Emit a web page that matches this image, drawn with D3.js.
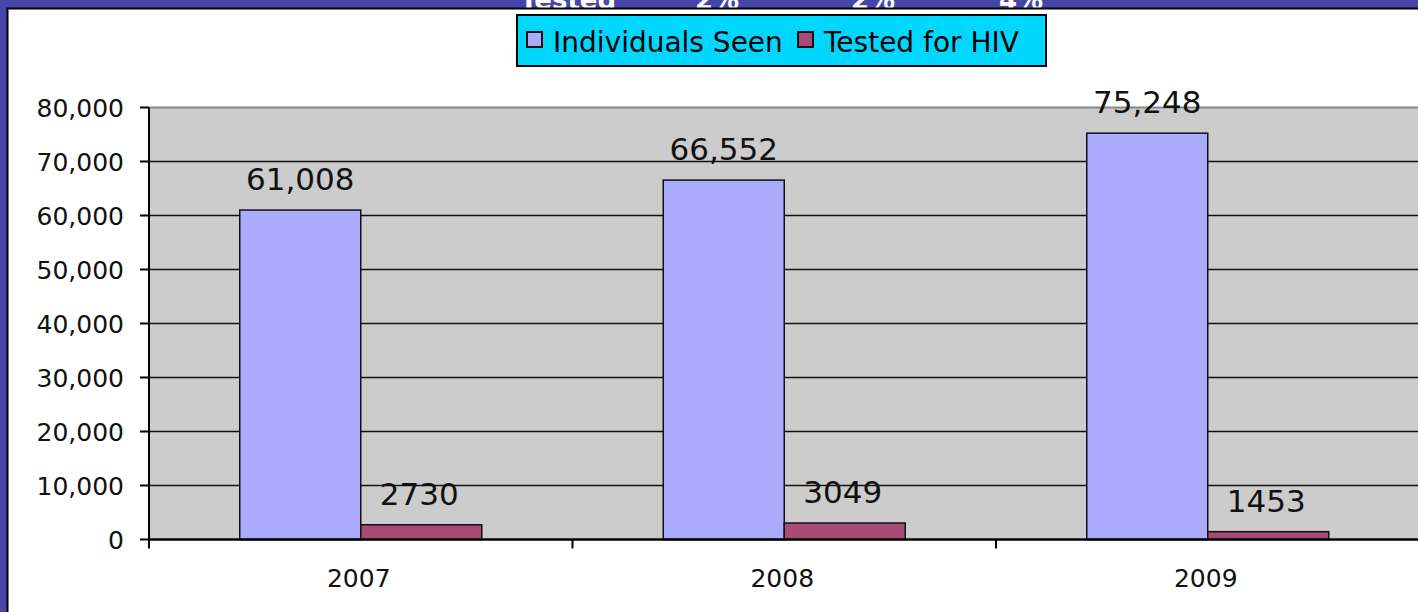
<!DOCTYPE html>
<html lang="en">
<head>
<meta charset="utf-8">
<title>Individuals Seen vs Tested for HIV</title>
<script src="https://d3js.org/d3.v7.min.js"></script>
<style>
  body { margin: 0; background: #fff; }
  svg { display: block; font-family: "DejaVu Sans", Verdana, sans-serif; }
</style>
</head>
<body>
<div id="vis"></div>
<script>
/////////////////// Data //////////////
var years = ["2007", "2008", "2009"];
var individualsSeen = [61008, 66552, 75248];
var testedForHIV = [2730, 3049, 1453];
var seriesNames = ["Individuals Seen", "Tested for HIV"];
var seriesColors = ["#AAAAFF", "#A94A74"];
var yTicks = [0, 10000, 20000, 30000, 40000, 50000, 60000, 70000, 80000];
// header row of the slide table, cut off by the frame
var headerTexts = ["Tested", "2%", "2%", "4%"];
var headerX = [520, 717, 873, 1021];

/////////////////// Var //////////////
var width = 1418, height = 612;
var plot = {left: 149, right: 1419.5, top: 107.5, bottom: 539.5};

var svg = d3.select("#vis").append("svg")
    .attr("width", width)
    .attr("height", height);

svg.append("rect").attr("width", width).attr("height", height).attr("fill", "#fff");

//============================== Scales
var x0 = d3.scaleBand().domain(years).range([plot.left, plot.right]).padding(0);
var band = x0.bandwidth();
var barW = band / 3.5;   // excel gap width 150%
var x1 = d3.scaleBand().domain(seriesNames)
    .range([barW * 0.75, barW * 0.75 + barW * 2]).padding(0);
var y = d3.scaleLinear().domain([0, 80000]).range([plot.bottom, plot.top]);

//============================== Plot area
svg.append("rect")
    .attr("x", plot.left).attr("y", plot.top)
    .attr("width", plot.right - plot.left + 2)
    .attr("height", plot.bottom - plot.top)
    .attr("fill", "#CCCCCC");

svg.append("line")
    .attr("x1", plot.left).attr("x2", plot.right + 2)
    .attr("y1", plot.top).attr("y2", plot.top)
    .attr("stroke", "#888").attr("stroke-width", 2);

svg.selectAll("line.grid")
    .data(yTicks.filter(function(d) { return d > 0 && d < 80000; }))
    .enter().append("line")
    .attr("class", "grid")
    .attr("x1", plot.left).attr("x2", plot.right + 2)
    .attr("y1", function(d) { return y(d); })
    .attr("y2", function(d) { return y(d); })
    .attr("stroke", "#111").attr("stroke-width", 1.6);

//============================== Bars
var rows = years.map(function(yr, i) {
  return {year: yr, values: [individualsSeen[i], testedForHIV[i]]};
});

var groups = svg.selectAll("g.year")
    .data(rows)
    .enter().append("g")
    .attr("class", "year")
    .attr("transform", function(d) { return "translate(" + x0(d.year) + ",0)"; });

groups.selectAll("rect")
    .data(function(d) { return d.values.map(function(v, j) { return {name: seriesNames[j], value: v, j: j}; }); })
    .enter().append("rect")
    .attr("x", function(d) { return x1(d.name); })
    .attr("y", function(d) { return y(d.value); })
    .attr("width", x1.bandwidth())
    .attr("height", function(d) { return y(0) - y(d.value); })
    .attr("fill", function(d) { return seriesColors[d.j]; })
    .attr("stroke", "#111").attr("stroke-width", 1.5);

var fmtComma = d3.format(",");
groups.selectAll("text.val")
    .data(function(d) { return d.values.map(function(v, j) { return {name: seriesNames[j], value: v, j: j}; }); })
    .enter().append("text")
    .attr("class", "val")
    .attr("x", function(d) { return x1(d.name) + x1.bandwidth() / 2 - (d.j ? 2 : 0); })
    .attr("y", function(d) { return y(d.value) - 20; })
    .attr("text-anchor", "middle")
    .attr("font-size", 31)
    .attr("fill", "#111")
    .text(function(d) { return d.j === 0 ? fmtComma(d.value) : String(d.value); });

//============================== Axes
svg.append("line")
    .attr("x1", plot.left).attr("x2", plot.left)
    .attr("y1", plot.top).attr("y2", plot.bottom + 9)
    .attr("stroke", "#000").attr("stroke-width", 2);

svg.append("line")
    .attr("x1", plot.left - 1).attr("x2", plot.right + 2)
    .attr("y1", plot.bottom).attr("y2", plot.bottom)
    .attr("stroke", "#000").attr("stroke-width", 2.5);

svg.selectAll("line.ytick")
    .data(yTicks).enter().append("line")
    .attr("class", "ytick")
    .attr("x1", plot.left - 9).attr("x2", plot.left)
    .attr("y1", function(d) { return y(d); })
    .attr("y2", function(d) { return y(d); })
    .attr("stroke", "#000").attr("stroke-width", 2);

svg.selectAll("text.ylab")
    .data(yTicks).enter().append("text")
    .attr("class", "ylab")
    .attr("x", 124)
    .attr("y", function(d) { return y(d); })
    .attr("dy", "0.36em")
    .attr("text-anchor", "end")
    .attr("font-size", 25)
    .attr("fill", "#111")
    .text(function(d) { return fmtComma(d); });

svg.selectAll("line.xtick")
    .data(years.slice(1)).enter().append("line")
    .attr("class", "xtick")
    .attr("x1", function(d) { return x0(d); })
    .attr("x2", function(d) { return x0(d); })
    .attr("y1", plot.bottom).attr("y2", plot.bottom + 9)
    .attr("stroke", "#000").attr("stroke-width", 2);

svg.selectAll("text.xlab")
    .data(years).enter().append("text")
    .attr("class", "xlab")
    .attr("x", function(d) { return x0(d) + band / 2 - 2; })
    .attr("y", 587)
    .attr("text-anchor", "middle")
    .attr("font-size", 25)
    .attr("fill", "#111")
    .text(function(d) { return d; });

//============================== Legend
var legend = svg.append("g").attr("class", "legend");
legend.append("rect")
    .attr("x", 517).attr("y", 15)
    .attr("width", 529).attr("height", 51)
    .attr("fill", "#00D7FF")
    .attr("stroke", "#000").attr("stroke-width", 2);

var legX = [527, 798];
var legItems = legend.selectAll("g.item")
    .data(seriesNames).enter().append("g")
    .attr("class", "item")
    .attr("transform", function(d, i) { return "translate(" + legX[i] + ",0)"; });

legItems.append("rect")
    .attr("x", 0).attr("y", 32)
    .attr("width", 15).attr("height", 15)
    .attr("fill", function(d, i) { return seriesColors[i]; })
    .attr("stroke", "#111").attr("stroke-width", 2);

legItems.append("text")
    .attr("x", 26).attr("y", 52)
    .attr("font-size", 28)
    .attr("fill", "#000")
    .text(function(d) { return d; });

//============================== Frame
svg.append("rect").attr("x", 0).attr("y", 0).attr("width", width).attr("height", 8).attr("fill", "#4646A8");
svg.append("rect").attr("x", 0).attr("y", 0).attr("width", 7).attr("height", height).attr("fill", "#4646A8");

svg.selectAll("text.header")
    .data(headerTexts).enter().append("text")
    .attr("class", "header")
    .attr("x", function(d, i) { return headerX[i]; })
    .attr("y", 9)
    .attr("text-anchor", function(d, i) { return i === 0 ? "start" : "middle"; })
    .attr("font-size", 26)
    .attr("font-weight", "bold")
    .attr("fill", "#fff")
    .text(function(d) { return d; });

svg.append("rect").attr("x", 7).attr("y", 9.5).attr("width", width).attr("height", 20).attr("fill", "#fff");
svg.append("line")
    .attr("x1", 6).attr("x2", width)
    .attr("y1", 8.5).attr("y2", 8.5)
    .attr("stroke", "#000").attr("stroke-width", 2);
svg.append("line")
    .attr("x1", 7.5).attr("x2", 7.5)
    .attr("y1", 8).attr("y2", height)
    .attr("stroke", "#000").attr("stroke-width", 2);
// redraw legend on top of the cover strip
legend.raise();
</script>
</body>
</html>
